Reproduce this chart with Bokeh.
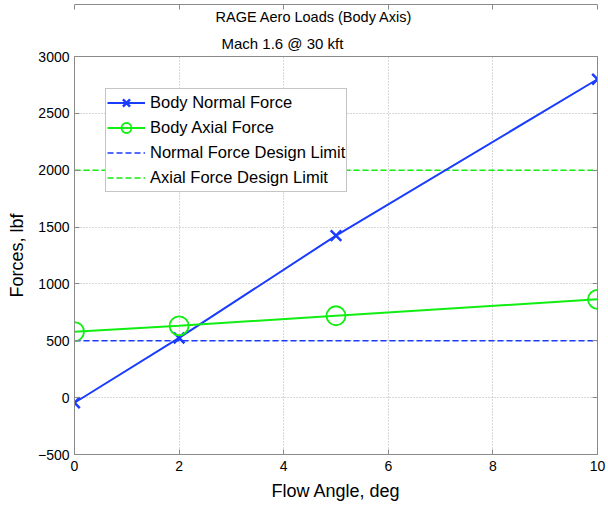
from bokeh.plotting import figure
from bokeh.models import Title, LinearAxis, Legend, LegendItem, Range1d, FixedTicker
from bokeh.embed import file_html
from bokeh.resources import INLINE

# Data
flow_angle = [0, 2, 5, 10]
normal_force = [-45, 525, 1425, 2800]
axial_force = [580, 632, 720, 865]
normal_limit = [500, 500, 500, 500]
axial_limit = [2000, 2000, 2000, 2000]
x_ticks = [0, 2, 4, 6, 8, 10]
y_ticks = [-500, 0, 500, 1000, 1500, 2000, 2500, 3000]

FONT = "Liberation Sans"
BLUE = "#1a3cff"
GREEN = "#11ee11"
AXC = "#8a8a8a"

p = figure(width=608, height=505, output_backend="svg", toolbar_location=None,
           x_range=Range1d(0, 10), y_range=Range1d(-500, 3000),
           min_border_left=74, min_border_right=11, min_border_top=56, min_border_bottom=51)
p.background_fill_color = "white"
p.border_fill_color = "white"
p.outline_line_color = AXC
p.outline_line_width = 1

# titles
t2 = Title(text="Mach 1.6 @ 30 kft", align="left", text_font=FONT, text_font_size="15px",
           text_font_style="normal", text_color="black", offset=147, standoff=10)
t1 = Title(text="RAGE Aero Loads (Body Axis)", align="left", text_font=FONT, text_font_size="14.5px",
           text_font_style="normal", text_color="black", offset=141, standoff=5)
p.add_layout(t2, "above")
p.add_layout(t1, "above")

for ax in (p.xaxis[0], p.yaxis[0]):
    ax.major_label_text_font = FONT
    ax.major_label_text_font_size = "14px"
    ax.major_label_text_color = "black"
    ax.axis_label_text_font = FONT
    ax.axis_label_text_font_size = "18px"
    ax.axis_label_text_font_style = "normal"
    ax.axis_label_text_color = "black"
    ax.axis_line_color = AXC
    ax.major_tick_line_color = AXC
    ax.major_tick_in = 5
    ax.major_tick_out = 0
    ax.minor_tick_line_color = None

p.xaxis[0].ticker = FixedTicker(ticks=x_ticks)
p.yaxis[0].ticker = FixedTicker(ticks=y_ticks)
p.xaxis[0].axis_label = "Flow Angle, deg"
p.yaxis[0].axis_label = "Forces, lbf"
p.xaxis[0].major_label_standoff = 6
p.xaxis[0].axis_label_standoff = 7
p.yaxis[0].major_label_standoff = 5
p.yaxis[0].axis_label_standoff = 8

# top / right axes with ticks only
for loc, ticks in (("above", x_ticks), ("right", y_ticks)):
    a = LinearAxis(ticker=FixedTicker(ticks=ticks), axis_line_color=AXC, major_tick_line_color=AXC,
                   major_tick_in=5, major_tick_out=0, minor_tick_line_color=None,
                   major_label_text_color=None, major_label_text_font_size="1px",
                   major_label_standoff=0)
    p.add_layout(a, loc)

p.xgrid[0].ticker = FixedTicker(ticks=x_ticks)
p.ygrid[0].ticker = FixedTicker(ticks=y_ticks)
p.grid.grid_line_color = "#b0b0b0"
p.grid.grid_line_dash = "1 2"
p.grid.grid_line_width = 1

r_nl = p.line(flow_angle, normal_limit, line_color=BLUE, line_width=1.6, line_dash="6 3")
r_al = p.line(flow_angle, axial_limit, line_color=GREEN, line_width=1.6, line_dash="6 3")
r_n = p.line(flow_angle, normal_force, line_color=BLUE, line_width=2)
m_n = p.scatter(flow_angle, normal_force, marker="x", size=15, line_color=BLUE, line_width=2.5)
r_a = p.line(flow_angle, axial_force, line_color=GREEN, line_width=2)
m_a = p.scatter(flow_angle, axial_force, marker="circle", size=19, line_color=GREEN,
                fill_color=None, line_width=1.8)

legend = Legend(items=[
    LegendItem(label="Body Normal Force", renderers=[r_n, m_n]),
    LegendItem(label="Body Axial Force", renderers=[r_a, m_a]),
    LegendItem(label="Normal Force Design Limit", renderers=[r_nl]),
    LegendItem(label="Axial Force Design Limit", renderers=[r_al]),
], location=(31, 262))
legend.label_text_font = FONT
legend.label_text_font_size = "16.5px"
legend.label_text_color = "black"
legend.border_line_color = AXC
legend.border_line_width = 1
legend.background_fill_color = "white"
legend.background_fill_alpha = 1
legend.glyph_width = 38
legend.glyph_height = 25
legend.label_height = 25
legend.spacing = 0
legend.padding = 1
legend.margin = 0
legend.label_standoff = 5
p.add_layout(legend, "center")

open("out.html", "w").write(file_html(p, INLINE))
